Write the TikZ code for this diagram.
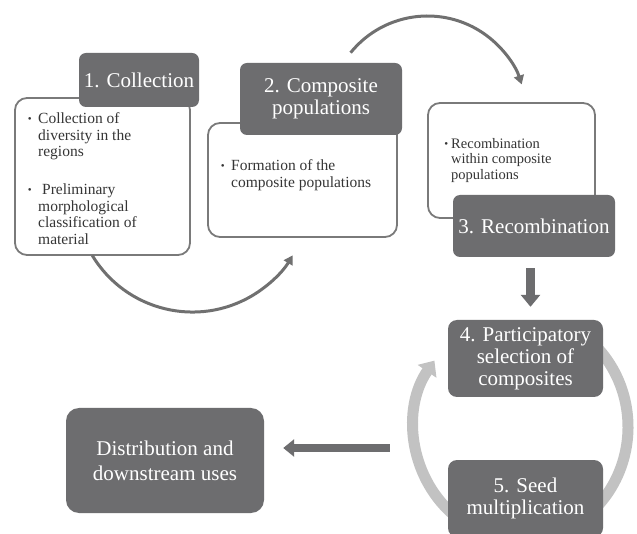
\documentclass[tikz,border=0pt]{standalone}
\usepackage{fontspec}
\setmainfont{Liberation Serif}
\usetikzlibrary{arrows.meta}
\definecolor{dk}{HTML}{6D6D6F}
\definecolor{ringc}{HTML}{C2C2C2}
\definecolor{edgec}{HTML}{7A7A7A}
\definecolor{txtc}{HTML}{353535}
\definecolor{arcc}{HTML}{707070}
\newcommand{\bul}[1]{\llap{\raisebox{1.2pt}{\fontsize{11}{11}\selectfont\textbullet}\hspace{#1}}}
\begin{document}
\begin{tikzpicture}[x=1pt,y=1pt,
  whitebox/.style={draw=edgec, line width=1.8pt, fill=white, rounded corners=12pt, inner sep=0pt},
  darkbox/.style={fill=dk, text=white, rounded corners=7pt, inner sep=0pt, align=center,
    font=\fontsize{21}{22}\selectfont},
  bullettext/.style={anchor=base west, inner sep=0pt, align=left, text=txtc,
    font=\fontsize{15.5}{16.7}\selectfont},
  arcarrow/.style={draw=arcc, line width=3pt, -{Triangle[width=10pt,length=9pt]}},
  ringarc/.style={draw=ringc, line width=11pt},
  fatarrow/.style={draw=dk, line width=9pt, -{Triangle[width=19pt,length=12pt]}}
]
\useasboundingbox (0,0) rectangle (637,533);
\clip (0,0) rectangle (637,533);
\fill[white] (0,0) rectangle (637,533);

% white content boxes
\node[whitebox, minimum width=175pt, minimum height=157pt] (w1) at (102.5,356.5) {};
\node[whitebox, minimum width=189pt, minimum height=114pt] (w2) at (302.5,353) {};
\node[whitebox, minimum width=167pt, minimum height=115pt] (w3) at (511.5,372.5) {};

% bullet texts (anchor = baseline of the last line)
\node[bullettext] (t1a) at (38,376.1) {\bul{6.5pt}Collection of\\diversity in the\\regions};
\node[bullettext] (t1b) at (38,288.4) {\bul{6.5pt}\hspace*{4pt}Preliminary\\morphological\\classification of\\material};
\node[bullettext] (t2) at (231,345.8) {\bul{6.5pt}Formation of the\\composite populations};
\node[bullettext, font=\fontsize{14.5}{15.5}\selectfont] (t3) at (451,353.5) {\bul{3pt}Recombination\\within composite\\populations};

% title labels
\node[darkbox, minimum width=120pt, minimum height=54pt] (l1) at (139,453) {1. Collection};
\node[darkbox, minimum width=162pt, minimum height=72pt] (l2) at (321,434) {2. Composite\\populations};
\node[darkbox, minimum width=162pt, minimum height=62pt] (l3) at (534,307) {3. Recombination};

% curved arrows between stages
\coordinate (a1s) at (350.6,480.3);
\draw[arcarrow] (a1s) arc[start angle=141, end angle=18, radius=99];
\coordinate (a2s) at (92.2,277.7);
\draw[arcarrow] (a2s) arc[start angle=211, end angle=329, radius=117];

% light grey cycle
\coordinate (r1s) at (452.2,19.4);
\draw[ringarc, -{Triangle[width=22pt,length=13pt]}] (r1s) arc[start angle=230, end angle=144, x radius=107, y radius=113];
\coordinate (r2s) at (592.6,190);
\draw[ringarc] (r2s) arc[start angle=48, end angle=-48, x radius=107, y radius=113];

% stage boxes
\node[darkbox, minimum width=155pt, minimum height=77pt, rounded corners=9pt] (b4) at (525.5,174.5) {4. Participatory\\selection of\\composites};
\node[darkbox, minimum width=155pt, minimum height=77pt, rounded corners=9pt] (b5) at (525.5,34.5) {5. Seed\\multiplication};
\node[darkbox, minimum width=198pt, minimum height=105pt, rounded corners=13pt,
  font=\fontsize{21}{25}\selectfont] (dist) at (165,72.5) {Distribution and\\downstream uses};

% straight arrows
\coordinate (d1) at ([xshift=-3.5pt,yshift=-11pt]l3.south);
\coordinate (d2) at ([xshift=5pt,yshift=13pt]b4.north);
\draw[fatarrow] (d1) -- (d2);
\coordinate (e1) at ([xshift=-58pt,yshift=-89.5pt]b4.west);
\coordinate (e2) at ([xshift=19pt,yshift=12.5pt]dist.east);
\draw[fatarrow, line width=8pt, -{Triangle[width=17pt,length=11pt]}] (e1) -- (e2);
\end{tikzpicture}
\end{document}
